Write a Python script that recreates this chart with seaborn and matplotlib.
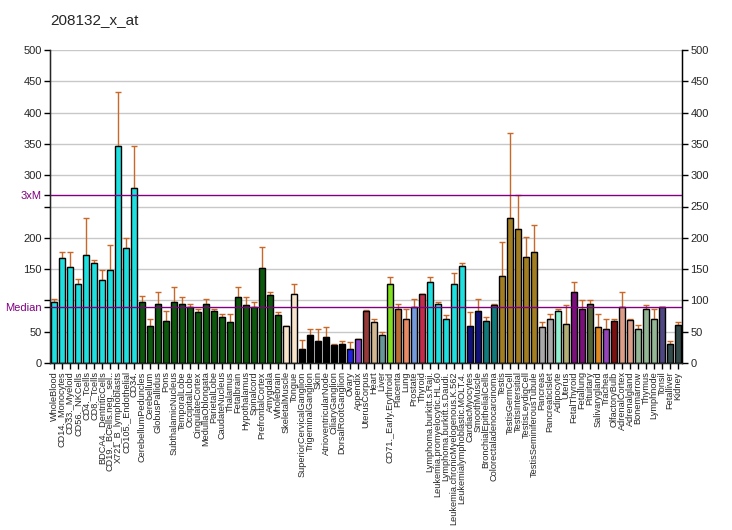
import numpy as np
import pandas as pd
import matplotlib
matplotlib.use("Agg")
import matplotlib.pyplot as plt
import seaborn as sns

# data
tissues = [
    "WholeBlood", "CD14._Monocytes", "CD33._Myeloid", "CD56._NKCells", "CD4._Tcells",
    "CD8._Tcells", "BDCA4._DentriticCells", "CD19._BCells.neg._sel..", "X721_B_lymphoblasts",
    "CD105._Endothelial", "CD34.", "CerebellumPeduncles", "Cerebellum", "GlobusPallidus",
    "Pons", "SubthalamicNucleus", "TemporalLobe", "OccipitalLobe", "CingulateCortex",
    "MedullaOblongata", "ParietalLobe", "CaudateNucleus", "Thalamus", "Fetalbrain",
    "Hypothalamus", "Spinalcord", "PrefrontalCortex", "Amygdala", "Wholebrain",
    "SkeletalMuscle", "Tongue", "SuperiorCervicalGanglion", "TrigeminalGanglion", "Skin",
    "AtrioventricularNode", "CiliaryGanglion", "DorsalRootGanglion", "Ovary", "Appendix",
    "UterusCorpus", "Heart", "Liver", "CD71._Early.Erythroid", "Placenta", "Lung",
    "Prostate", "Thyroid", "Lymphoma.burkitt.s.Raji.", "Leukemia.promyelocytic.HL.60",
    "Lymphoma.burkitt.s.Daudi.", "Leukemia.chronicMyelogenous.K.562",
    "Leukemialymphoblastic.MOLT.4.", "CardiacMyocytes", "SmoothMuscle",
    "BronchialEpithelialCells", "Colorectaladenocarcinoma", "Testis", "TestisGermCell",
    "TestisIntersitial", "TestisLeydigCell", "TestisSeminiferousTubule", "Pancreas",
    "PancreaticIslet", "Adipocyte", "Uterus", "FetalThyroid", "Fetallung", "Pituitary",
    "Salivarygland", "Trachea", "OlfactoryBulb", "AdrenalCortex", "Adrenalgland",
    "Bonemarrow", "Thymus", "Lymphnode", "Tonsil", "Fetalliver", "Kidney",
]

values = [
    97, 167, 154, 126, 172, 159, 132, 148, 346, 183, 279,
    97, 59, 94, 67, 98, 94, 90, 81, 95, 83, 73, 65, 106, 92, 89,
    151, 108, 76, 59, 111,
    22, 44, 35, 41, 28, 31,
    23, 38, 83, 65, 44, 126, 86, 71, 89, 110,
    129, 94, 71, 126, 155,
    59, 83, 67, 92,
    139, 231, 214, 170, 178,
    57, 70, 83, 62, 114, 86, 94, 57, 54, 67, 90, 68, 54, 86, 71, 90, 31, 60,
]

err_top = [
    102, 178, 178, 134, 231, 164, 148, 188, 433, 199, 346,
    107, 71, 114, 83, 121, 105, 94, 87, 103, 86, 79, 78, 122, 105, 98,
    185, 114, 81, 59, 126,
    36, 54, 54, 57, 30, 35,
    33, 38, 84, 71, 49, 138, 95, 86, 103, 110,
    137, 97, 76, 143, 159,
    81, 103, 73, 94,
    193, 367, 269, 202, 220,
    65, 79, 87, 92, 130, 100, 100, 78, 70, 71, 113, 71, 60, 92, 86, 90, 35, 65,
]

colors = (
    ["#00FFFF"] * 11 + ["#006400"] * 18 + ["#FFE4C4"] * 2 + ["#000000"] * 6
    + ["#0000FF", "#8A2BE2", "#A52A2A", "#DEB887", "#5F9EA0", "#7FFF00",
       "#D2691E", "#FF7F50", "#6495ED", "#DC143C"]
    + ["#00FFFF"] * 5 + ["#00008B"] * 2 + ["#008B8B"] * 2 + ["#B8860B"] * 5
    + ["#A9A9A9"] * 2
    + ["#7FFFD4", "#BDB76B", "#8B008B", "#8B008B", "#556B2F", "#FF8C00",
       "#9932CC", "#8B0000", "#E9967A", "#E9967A"]
    + ["#8FBC8F"] * 3 + ["#483D8B"] + ["#2F4F4F"] * 2
)

median = 89.4
three_m = 268

df = pd.DataFrame({"tissue": tissues, "value": values})

sns.set_style("white")
plt.rcParams["font.family"] = ["Liberation Sans", "DejaVu Sans"]

fig = plt.figure(figsize=(7.32, 5.30), dpi=100)
ax = fig.add_axes([50 / 732, 167 / 530, 632 / 732, 313 / 530])

for y in range(50, 501, 50):
    ax.axhline(y, color="#C8C8C8", lw=1, zorder=0)

sns.barplot(data=df, x="tissue", y="value", hue="tissue", palette=colors,
            legend=False, width=0.78, edgecolor="black", linewidth=1,
            ax=ax, zorder=2)

x = np.arange(len(tissues))
up = np.array(err_top) - np.array(values)
ax.errorbar(x, values, yerr=[np.zeros(len(x)), up], fmt="none",
            ecolor="#C8692A", elinewidth=1, capsize=2.5, capthick=1, zorder=1)

ax.axhline(median, color="#800080", lw=1, zorder=3)
ax.axhline(three_m, color="#800080", lw=1, zorder=3)

ax.set_xlim(-0.5, len(tissues) - 0.5)
ax.set_ylim(0, 500)

# left side: 100 and 250 labels are covered by Median / 3xM
lticks = [0, 50, 100, 150, 200, 250, 300, 350, 400, 450, 500, median, three_m]
llabels = ["0", "50", "", "150", "200", "", "300", "350", "400", "450", "500",
           "Median", "3xM"]
ax.set_yticks(lticks)
ax.set_yticklabels(llabels, fontsize=8)
for lab in ax.get_yticklabels()[-2:]:
    lab.set_color("#800080")

ax.set_xticks(x)
ax.set_xticklabels(tissues, rotation=90, fontsize=6.6)
ax.set_xlabel("")
ax.set_ylabel("")
ax.tick_params(axis="both", direction="out", length=4, width=1, color="black",
               left=True, bottom=True, pad=2)

for side in ["left", "right", "bottom"]:
    ax.spines[side].set_color("black")
    ax.spines[side].set_linewidth(1)
ax.spines["top"].set_visible(False)

ax2 = ax.twinx()
ax2.set_ylim(0, 500)
ax2.set_yticks(range(0, 501, 50))
ax2.set_yticklabels([str(v) for v in range(0, 501, 50)], fontsize=8)
ax2.tick_params(axis="y", direction="out", length=4, width=1, color="black",
                right=True, pad=2)
ax2.spines["top"].set_visible(False)
ax2.spines["right"].set_color("black")

fig.text(50 / 732, 1 - 20 / 530, "208132_x_at", fontsize=11, va="center", ha="left")

fig.savefig("out.png", dpi=100)
